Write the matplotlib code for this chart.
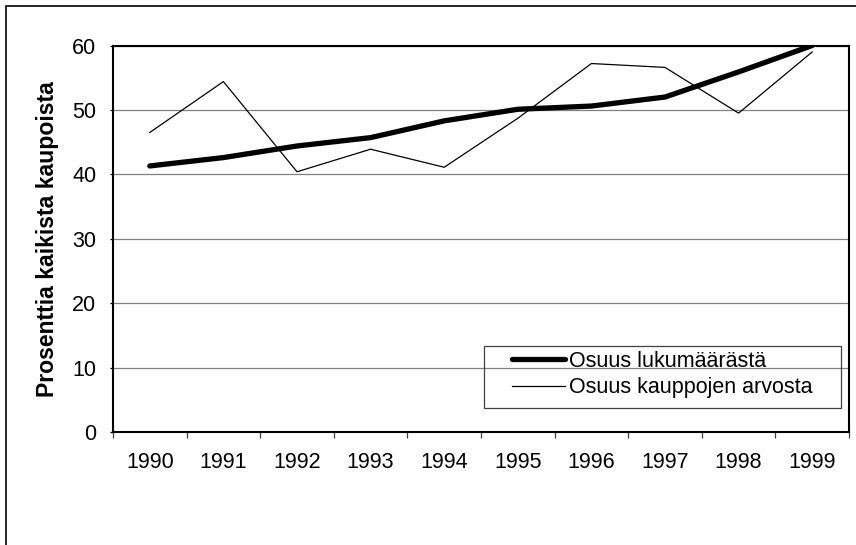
import numpy as np
import matplotlib
matplotlib.use('Agg')
import matplotlib.pyplot as plt
from matplotlib.patches import Rectangle

plt.rcParams['font.family'] = ['Liberation Sans', 'DejaVu Sans']

years = ['1990', '1991', '1992', '1993', '1994', '1995', '1996', '1997', '1998', '1999']
osuus_lukumaara = [41.3, 42.6, 44.4, 45.7, 48.3, 50.1, 50.6, 52.0, 55.9, 60.0]
osuus_arvo = [46.5, 54.4, 40.4, 43.9, 41.1, 48.7, 57.2, 56.6, 49.5, 59.0]
ylabel = 'Prosenttia kaikista kaupoista'

W, H = 856, 545
fig = plt.figure(figsize=(W / 100, H / 100), dpi=100)
ax = fig.add_axes([113 / W, 1 - 432 / H, (849 - 113) / W, (432 - 45.5) / H])

x = np.arange(len(years))
ax.plot(x, osuus_lukumaara, color='black', lw=3.8, solid_capstyle='round',
        solid_joinstyle='round', label='Osuus lukumäärästä', zorder=4)
ax.plot(x, osuus_arvo, color='black', lw=0.9, label='Osuus kauppojen arvosta', zorder=3)

ax.set_xlim(-0.5, len(years) - 0.5)
ax.set_ylim(0, 60)
ax.set_yticks(range(0, 61, 10))
ax.yaxis.grid(True, color='#808080', lw=0.9)
ax.set_axisbelow(True)

# category boundaries get the tick marks, labels sit in the middle
ax.set_xticks(np.arange(-0.5, len(years), 1.0))
ax.set_xticklabels([])
ax.set_xticks(x, minor=True)
ax.set_xticklabels(years, minor=True)
ax.tick_params(axis='x', which='major', length=4, width=0.9, color='#404040', direction='out')
ax.tick_params(axis='x', which='minor', length=0, pad=14.5, labelsize=15.5)
ax.tick_params(axis='y', length=2, width=0.9, pad=10, labelsize=15.5)

for s in ax.spines.values():
    s.set_linewidth(1.5)
    s.set_color('black')

ax.set_ylabel(ylabel, fontsize=16.6, fontweight='bold')
ax.yaxis.set_label_coords(-0.074, 0.5)

# legend: box drawn by hand, entries placed inside it
fig.patches.append(Rectangle((484 / W, 1 - 408 / H), (841 - 484) / W, (408 - 346) / H,
                             transform=fig.transFigure, fill=False, edgecolor='#404040', lw=0.9))
leg = ax.legend(loc='upper left', bbox_to_anchor=(512 / W, 1 - 351 / H),
                bbox_transform=fig.transFigure, fontsize=15.5, frameon=False,
                handlelength=2.45, handletextpad=0.2, borderpad=0,
                labelspacing=0.25, borderaxespad=0)

fig.patches.append(Rectangle((6 / W, -0.1), 1.2, 1 - 6 / H + 0.1, transform=fig.transFigure,
                             fill=False, edgecolor='black', lw=1.2))

fig.savefig('out.png', dpi=100)
